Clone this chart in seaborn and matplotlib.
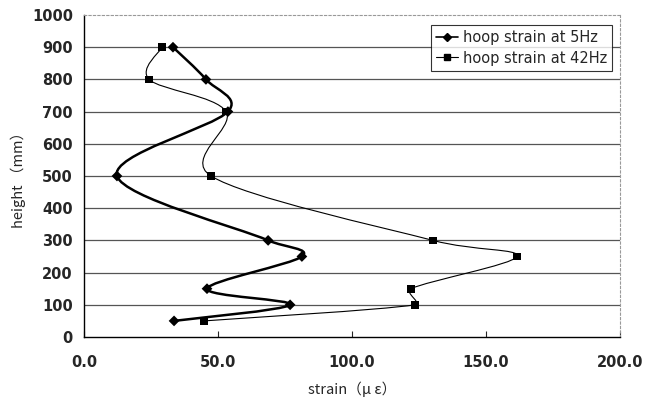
import numpy as np
import pandas as pd
import matplotlib
matplotlib.use("Agg")
import matplotlib.pyplot as plt
import seaborn as sns
from matplotlib.path import Path
from matplotlib.patches import PathPatch
from matplotlib.lines import Line2D

heights = [900, 800, 700, 500, 300, 250, 150, 100, 50]
strain_5hz = [33.2, 45.5, 53.7, 12.3, 68.7, 81.3, 45.9, 76.9, 33.6]
strain_42hz = [29.1, 24.3, 53.0, 47.4, 130.2, 161.6, 122.0, 123.5, 44.8]
series_names = ["hoop strain at 5Hz", "hoop strain at 42Hz"]
x_ticks = [0, 50, 100, 150, 200]
y_ticks = list(range(0, 1001, 100))

sns.set_style("white")
plt.rcParams['font.family'] = ['DejaVu Sans']

fig = plt.figure(figsize=(6.53, 3.99), dpi=100)
ax = fig.add_axes([84/653, 1-337/399, (620-84)/653, (337-15)/399])

XMAX, YMAX = 200.0, 1000.0
W, H = 536.0, 322.0


def smooth_path(xs, ys, clamp=0.5):
    # Excel-like smoothed line: Catmull-Rom Bezier handles, limited by segment length
    p = np.column_stack([np.asarray(xs) / XMAX * W, np.asarray(ys) / YMAX * H])
    n = len(p)

    def handle(i, seg):
        a = p[i - 1] if i > 0 else p[i]
        b = p[i + 1] if i + 1 < n else p[i]
        t = (b - a) / 6.0
        L = np.hypot(*t)
        lim = clamp * seg
        if L > lim and L > 0:
            t = t / L * lim
        return t

    verts = [p[0]]
    codes = [Path.MOVETO]
    for i in range(n - 1):
        p1, p2 = p[i], p[i + 1]
        seg = np.hypot(*(p2 - p1))
        c1 = p1 + handle(i, seg)
        c2 = p2 - handle(i + 1, seg)
        verts += [c1, c2, p2]
        codes += [Path.CURVE4] * 3
    v = np.array(verts)
    v[:, 0] = v[:, 0] / W * XMAX
    v[:, 1] = v[:, 1] / H * YMAX
    return Path(v, codes)


for yv in y_ticks[1:-1]:
    ax.axhline(yv, color="#555555", lw=0.9, zorder=1)

ax.add_patch(PathPatch(smooth_path(strain_5hz, heights), fill=False, ec="black", lw=1.8, zorder=3))
ax.add_patch(PathPatch(smooth_path(strain_42hz, heights), fill=False, ec="black", lw=0.8, zorder=3))

df = pd.DataFrame({
    "strain": strain_5hz + strain_42hz,
    "height": heights + heights,
    "series": [series_names[0]] * len(heights) + [series_names[1]] * len(heights),
})
sns.scatterplot(data=df, x="strain", y="height", style="series", hue="series",
                markers={series_names[0]: "D", series_names[1]: "s"},
                palette={series_names[0]: "black", series_names[1]: "black"},
                s=30, edgecolor="black", linewidth=0, legend=False, ax=ax, zorder=4)

ax.set_xlim(0, 200)
ax.set_ylim(0, 1000)
ax.set_xticks(x_ticks)
ax.set_xticklabels([f"{v:.1f}" for v in x_ticks], fontsize=10.5, fontweight="bold")
ax.set_yticks(y_ticks)
ax.set_yticklabels([str(v) for v in y_ticks], fontsize=10.5, fontweight="bold")
ax.tick_params(axis="x", direction="in", length=4, width=0.8, pad=13, bottom=True)
ax.tick_params(axis="y", length=0, pad=8)

for s in ["left", "bottom"]:
    ax.spines[s].set_color("black")
    ax.spines[s].set_linewidth(1.0)
for s in ["top", "right"]:
    ax.spines[s].set_color("#999999")
    ax.spines[s].set_linewidth(0.8)
    ax.spines[s].set_linestyle((0, (2, 2)))

ax.set_xlabel("strain（μ ε）", fontsize=10.5, family=["Noto Sans CJK JP", "DejaVu Sans"], labelpad=8)
ax.set_ylabel("height （mm）", fontsize=10.5, family=["Noto Sans CJK JP", "DejaVu Sans"], labelpad=4)

handles = [
    Line2D([0], [0], color="black", lw=1.2, marker="D", markersize=4),
    Line2D([0], [0], color="black", lw=0.8, marker="s", markersize=4),
]
leg = ax.legend(handles, series_names, loc="upper right", bbox_to_anchor=(0.985, 0.97),
                fontsize=10.5, frameon=True, fancybox=False, handlelength=1.5,
                handletextpad=0.3, borderpad=0.35, labelspacing=0.4, borderaxespad=0)
leg.get_frame().set_edgecolor("black")
leg.get_frame().set_linewidth(0.8)

fig.savefig("out.png", dpi=100)
